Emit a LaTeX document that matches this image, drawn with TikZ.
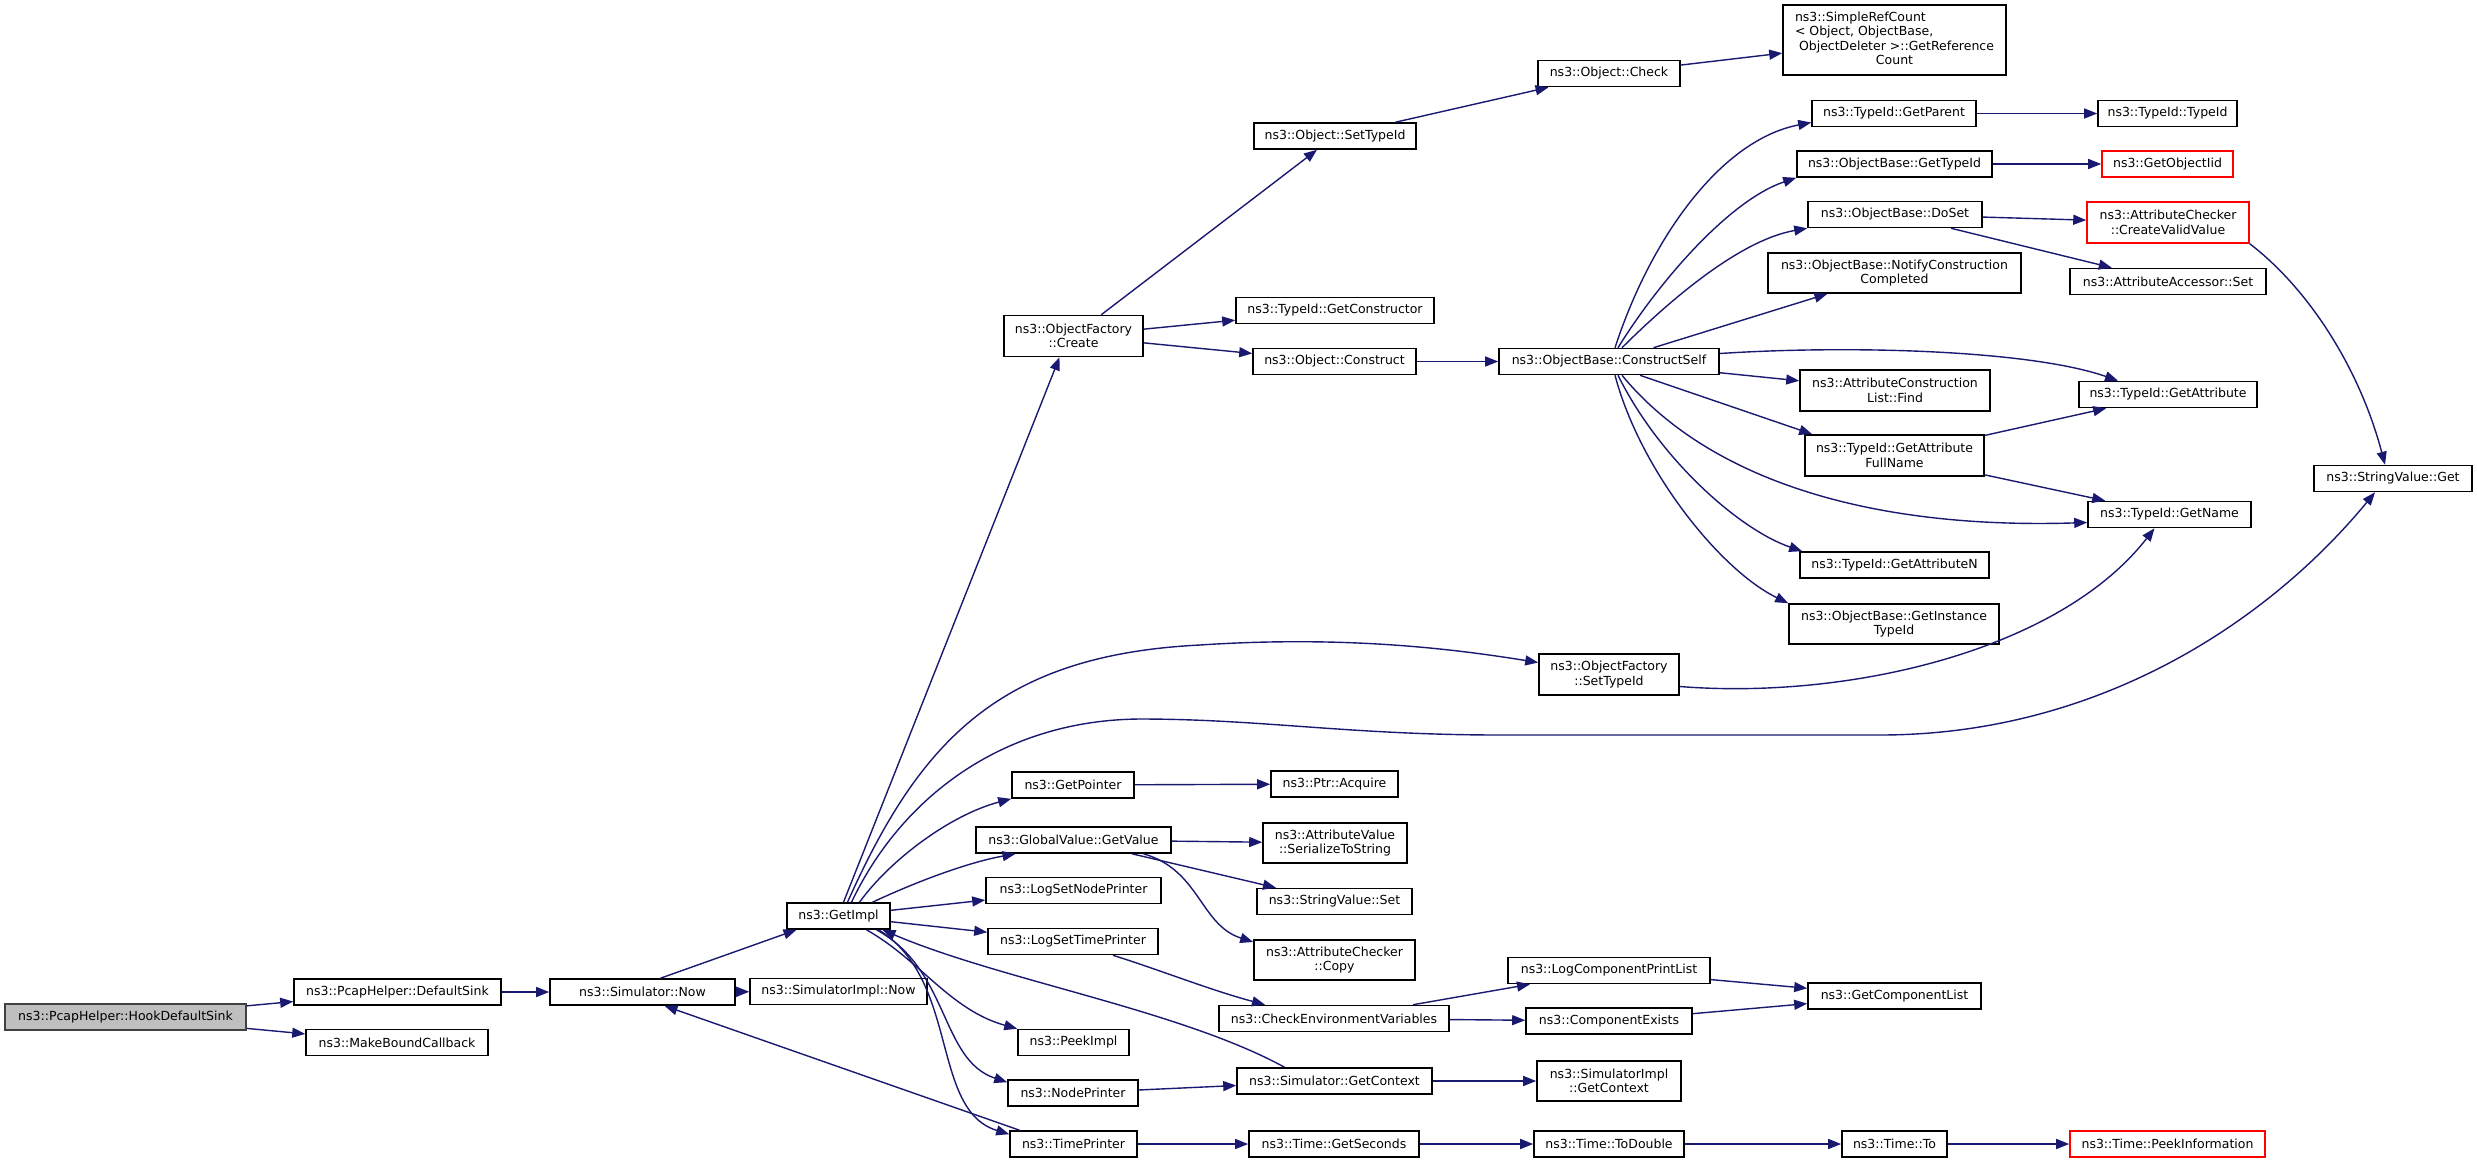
\documentclass[tikz,border=0pt]{standalone}
\usepackage{fontspec}
\setmainfont{DejaVu Sans}
\usepackage{tikz}
\usetikzlibrary{arrows.meta}
\definecolor{edgeblue}{HTML}{191970}
\definecolor{rootgray}{HTML}{BFBFBF}
\definecolor{rootline}{HTML}{404040}

\begin{document}
\begin{tikzpicture}[
    x=1pt, y=-1pt,
    fn/.style={rectangle, draw=black, fill=white, line width=1.6pt, inner sep=1pt, minimum height=26, align=center, font=\fontsize{12.5}{14.5}\selectfont},
    root/.style={fn, draw=rootline, fill=rootgray},
    undoc/.style={fn, draw=red},
    call/.style={-{Triangle[length=13pt,width=10pt]}, draw=edgeblue, line width=1.4pt}
]
\useasboundingbox (0,0) rectangle (2477,1163);

% Entry point
\node[root, minimum width=241] (hook) at (125.5,1017) {ns3::PcapHelper::HookDefaultSink};
\node[fn, minimum width=207] (defsink) at (397.5,992) {ns3::PcapHelper::DefaultSink};
\node[fn, minimum width=182] (mkcb) at (397,1042.5) {ns3::MakeBoundCallback};
\node[fn, minimum width=185] (simnow) at (642.5,992) {ns3::Simulator::Now};
\node[fn, minimum width=103] (getimpl) at (838.5,916) {ns3::GetImpl};
\node[fn, minimum width=177] (simimplnow) at (838.5,991.5) {ns3::SimulatorImpl::Now};

% Called from GetImpl
\node[fn, minimum width=139, minimum height=41] (ofcreate) at (1073.5,336) {ns3::ObjectFactory\\::Create};
\node[fn, minimum width=122] (getpointer) at (1073,785) {ns3::GetPointer};
\node[fn, minimum width=195] (gvgetvalue) at (1073.5,840) {ns3::GlobalValue::GetValue};
\node[fn, minimum width=175] (logsetnode) at (1073.5,890.5) {ns3::LogSetNodePrinter};
\node[fn, minimum width=170] (logsettime) at (1073,941.5) {ns3::LogSetTimePrinter};
\node[fn, minimum width=111] (peekimpl) at (1073.5,1042.5) {ns3::PeekImpl};
\node[fn, minimum width=130] (nodeprinter) at (1073,1093) {ns3::NodePrinter};
\node[fn, minimum width=127] (timeprinter) at (1073.5,1144) {ns3::TimePrinter};

% Third level
\node[fn, minimum width=162] (objsettypeid) at (1335,136) {ns3::Object::SetTypeId};
\node[fn, minimum width=198] (getconstructor) at (1335,310.5) {ns3::TypeId::GetConstructor};
\node[fn, minimum width=163] (objconstruct) at (1334.5,361.5) {ns3::Object::Construct};
\node[fn, minimum width=127] (ptracquire) at (1334.5,784) {ns3::Ptr::Acquire};
\node[fn, minimum width=144, minimum height=40] (serialize) at (1335,843) {ns3::AttributeValue\\::SerializeToString};
\node[fn, minimum width=155] (svset) at (1334.5,901.5) {ns3::StringValue::Set};
\node[fn, minimum width=161, minimum height=40] (accopy) at (1334.5,960) {ns3::AttributeChecker\\::Copy};
\node[fn, minimum width=230] (checkenv) at (1334,1018.5) {ns3::CheckEnvironmentVariables};
\node[fn, minimum width=195] (simgetctx) at (1334.5,1081) {ns3::Simulator::GetContext};
\node[fn, minimum width=170] (getseconds) at (1334,1144) {ns3::Time::GetSeconds};

% Fourth level
\node[fn, minimum width=142] (objcheck) at (1609,73.5) {ns3::Object::Check};
\node[fn, minimum width=220] (constructself) at (1609,361.5) {ns3::ObjectBase::ConstructSelf};
\node[fn, minimum width=140, minimum height=41] (ofsettypeid) at (1609,674.5) {ns3::ObjectFactory\\::SetTypeId};
\node[fn, minimum width=202] (logcompprint) at (1609,970.5) {ns3::LogComponentPrintList};
\node[fn, minimum width=166] (compexists) at (1609,1021) {ns3::ComponentExists};
\node[fn, minimum width=144, minimum height=40] (simimplctx) at (1609,1081) {ns3::SimulatorImpl\\::GetContext};
\node[fn, minimum width=150] (todouble) at (1609,1144) {ns3::Time::ToDouble};

% Fifth level
\node[fn, minimum width=223, minimum height=70] (simplerefcount) at (1894.5,40) {\begin{tabular}{@{}l@{}}ns3::SimpleRefCount\\< Object, ObjectBase,\\\hspace{4pt}ObjectDeleter >::GetReference\\\multicolumn{1}{@{}c@{}}{Count}\end{tabular}};
\node[fn, minimum width=164] (getparent) at (1894,113.5) {ns3::TypeId::GetParent};
\node[fn, minimum width=195] (gettypeid) at (1894.5,164) {ns3::ObjectBase::GetTypeId};
\node[fn, minimum width=174] (doset) at (1895,214.5) {ns3::ObjectBase::DoSet};
\node[fn, minimum width=253, minimum height=40] (notifycc) at (1894.5,273) {ns3::ObjectBase::NotifyConstruction\\Completed};
\node[fn, minimum width=190, minimum height=41] (acfind) at (1895,390.5) {ns3::AttributeConstruction\\List::Find};
\node[fn, minimum width=179, minimum height=41] (getattrfull) at (1894.5,455.5) {ns3::TypeId::GetAttribute\\FullName};
\node[fn, minimum width=189] (getattrn) at (1894.5,565) {ns3::TypeId::GetAttributeN};
\node[fn, minimum width=210, minimum height=40] (getinsttid) at (1894,624) {ns3::ObjectBase::GetInstance\\TypeId};
\node[fn, minimum width=173] (getcomplist) at (1894.5,996) {ns3::GetComponentList};
\node[fn, minimum width=105] (timeto) at (1894.5,1144) {ns3::Time::To};

% Leaves
\node[fn, minimum width=139] (typeidtypeid) at (2167.5,113.5) {ns3::TypeId::TypeId};
\node[undoc, minimum width=131] (getobjectiid) at (2167.5,164) {ns3::GetObjectIid};
\node[undoc, minimum width=162, minimum height=41] (createvalid) at (2168,222.5) {ns3::AttributeChecker\\::CreateValidValue};
\node[fn, minimum width=196] (accset) at (2168,281.5) {ns3::AttributeAccessor::Set};
\node[fn, minimum width=178] (getattribute) at (2168,394.5) {ns3::TypeId::GetAttribute};
\node[fn, minimum width=163] (getname) at (2169.5,514.5) {ns3::TypeId::GetName};
\node[undoc, minimum width=195] (peekinfo) at (2167.5,1144) {ns3::Time::PeekInformation};
\node[fn, minimum width=158] (svget) at (2393,478.5) {ns3::StringValue::Get};

% Main chain
\draw[call] (hook) -- (defsink);
\draw[call] (hook) -- (mkcb);
\draw[call] (defsink) -- (simnow);
\draw[call] ([xshift=18]simnow.north) -- ([xshift=-42]getimpl.south);
\draw[call] (simnow) -- (simimplnow);

% GetImpl calls
\draw[call] ([xshift=5]getimpl.north) -- ([xshift=-14]ofcreate.south);
\draw[call] ([xshift=9]getimpl.north) .. controls (920,740) and (1000,655) .. (1200,645) .. controls (1350,635) and (1460,650) .. ([yshift=12]ofsettypeid.west);
\draw[call] ([xshift=13]getimpl.north) .. controls (900,800) and (1000,720) .. (1140,719) .. controls (1260,719) and (1350,735) .. (1500,735) -- (1880,735) .. controls (2100,735) and (2270,620) .. ([xshift=-18]svget.south);
\draw[call] ([xshift=21]getimpl.north) .. controls (890,860) and (950,815) .. (getpointer.south west);
\draw[call] ([xshift=34]getimpl.north) .. controls (920,880) and (970,862) .. ([xshift=-58]gvgetvalue.south);
\draw[call] (getimpl) -- (logsetnode);
\draw[call] (getimpl) -- (logsettime);
\draw[call] ([xshift=28]getimpl.south) .. controls (920,960) and (950,1010) .. (peekimpl.north west);
\draw[call] ([xshift=38]getimpl.south) .. controls (950,970) and (940,1060) .. ([yshift=-3]nodeprinter.north west);
\draw[call] ([xshift=40]getimpl.south) .. controls (960,980) and (930,1110) .. ([yshift=-4]timeprinter.north west);
\draw[call] ([xshift=-50]simgetctx.north) .. controls (1180,1010) and (1000,980) .. ([xshift=44]getimpl.south);
\draw[call] ([xshift=-54]timeprinter.north) -- ([xshift=22]simnow.south);

% Lower branches
\draw[call] (getpointer) -- (ptracquire);
\draw[call] (gvgetvalue) -- (serialize);
\draw[call] (gvgetvalue) -- (svset);
\draw[call] ([xshift=70]gvgetvalue.south) .. controls (1200,870) and (1200,925) .. ([yshift=18]accopy.west);
\draw[call] ([xshift=40]logsettime.south) .. controls (1160,970) and (1210,990) .. ([xshift=-69]checkenv.north);
\draw[call] (checkenv) -- (logcompprint);
\draw[call] (checkenv) -- (compexists);
\draw[call] (logcompprint) -- (getcomplist);
\draw[call] (compexists) -- (getcomplist);
\draw[call] (nodeprinter) -- (simgetctx);
\draw[call] (simgetctx) -- (simimplctx);
\draw[call] (timeprinter) -- (getseconds);
\draw[call] (getseconds) -- (todouble);
\draw[call] (todouble) -- (timeto);
\draw[call] (timeto) -- (peekinfo);

% ObjectFactory::Create branch
\draw[call] (ofcreate) -- (objsettypeid);
\draw[call] (ofcreate) -- (getconstructor);
\draw[call] (ofcreate) -- (objconstruct);
\draw[call] (objsettypeid) -- (objcheck);
\draw[call] (objcheck) -- (simplerefcount);
\draw[call] (objconstruct) -- (constructself);

% ConstructSelf calls
\draw[call] ([xshift=6]constructself.north) .. controls (1650,240) and (1720,140) .. ([yshift=-9]getparent.west);
\draw[call] ([xshift=9]constructself.north) .. controls (1660,280) and (1730,200) .. (gettypeid.south west);
\draw[call] ([xshift=13]constructself.north) .. controls (1670,300) and (1740,240) .. (doset.south west);
\draw[call] (constructself) -- (notifycc);
\draw[call] ([yshift=8]constructself.east) .. controls (1850,345) and (2030,350) .. ([xshift=-50]getattribute.north);
\draw[call] (constructself) -- (acfind);
\draw[call] ([xshift=31]constructself.south) -- ([xshift=8]getattrfull.north west);
\draw[call] ([xshift=13]constructself.south) .. controls (1700,470) and (1850,530) .. ([yshift=-8]getname.west);
\draw[call] ([xshift=9]constructself.south) .. controls (1660,460) and (1740,530) .. ([xshift=3]getattrn.north west);
\draw[call] ([xshift=6]constructself.south) .. controls (1640,470) and (1720,570) .. (getinsttid.north west);

% Right side
\draw[call] (getparent) -- (typeidtypeid);
\draw[call] (gettypeid) -- (getobjectiid);
\draw[call] (doset) -- (createvalid);
\draw[call] (doset) -- (accset);
\draw[call] (createvalid.south east) .. controls (2310,290) and (2360,370) .. ([xshift=-8]svget.north);
\draw[call] (getattrfull) -- (getattribute);
\draw[call] (getattrfull) -- (getname);
\draw[call] ([yshift=-12]ofsettypeid.east) .. controls (1850,700) and (2060,650) .. ([xshift=-15]getname.south);

\end{tikzpicture}
\end{document}
